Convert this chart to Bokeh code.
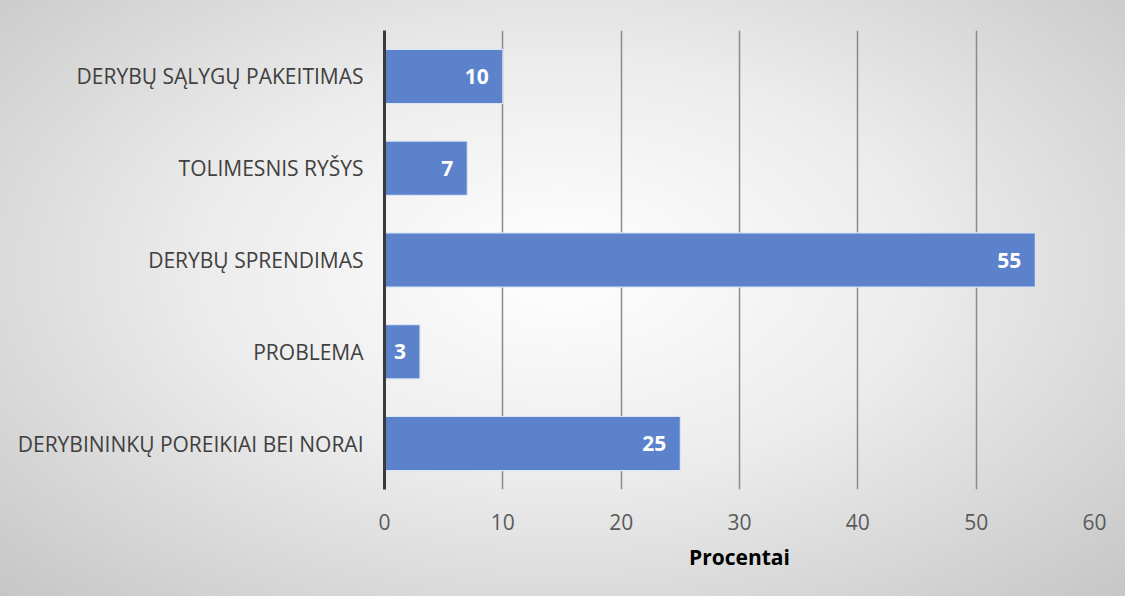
from bokeh.plotting import figure
from bokeh.models import Range1d, ColumnDataSource
from bokeh.core.properties import value
from bokeh.embed import file_html
from bokeh.resources import INLINE

categories = [
    "DERYBININKŲ POREIKIAI BEI NORAI",
    "PROBLEMA",
    "DERYBŲ SPRENDIMAS",
    "TOLIMESNIS RYŠYS",
    "DERYBŲ SĄLYGŲ PAKEITIMAS",
]
values = [25, 3, 55, 7, 10]
labels = [str(v) for v in values]
x_ticks = [0, 10, 20, 30, 40, 50, 60]

src = ColumnDataSource(dict(cat=categories, val=values, lab=labels))

p = figure(
    y_range=categories,
    x_range=Range1d(0, 60),
    width=1125, height=596,
    output_backend="svg", toolbar_location=None,
    min_border_left=384, min_border_right=31,
    min_border_top=30, min_border_bottom=107,
)
p.styles = {"background": "radial-gradient(ellipse at 50% 45%, #ffffff 0%, #ececec 45%, #c6c6c6 100%)"}
p.border_fill_alpha = 0
p.background_fill_alpha = 0
p.outline_line_color = None

p.hbar(y="cat", right="val", left=0, height=0.59, source=src,
       fill_color="#5B82CB", line_color="#dce6f5", line_width=1.2)

p.text(x="val", y="cat", text="lab", source=src, x_offset=-14,
       text_align="right", text_baseline="middle", text_color="white",
       text_font=value("Open Sans"), text_font_style="bold", text_font_size="21px")

# x axis
p.xaxis.ticker = x_ticks
p.xaxis.axis_line_color = None
p.xaxis.major_tick_line_color = None
p.xaxis.minor_tick_line_color = None
p.xaxis.major_label_text_font = "Open Sans"
p.xaxis.major_label_text_font_size = "21px"
p.xaxis.major_label_text_color = "#5a5a5a"
p.xaxis.major_label_standoff = 18
p.xaxis.axis_label = "Procentai"
p.xaxis.axis_label_text_font = "Open Sans"
p.xaxis.axis_label_text_font_style = "bold"
p.xaxis.axis_label_text_font_size = "21px"
p.xaxis.axis_label_text_color = "#000000"
p.xaxis.axis_label_standoff = 10

# y axis
p.yaxis.axis_line_color = "#3a3a3a"
p.yaxis.axis_line_width = 3
p.yaxis.major_tick_line_color = None
p.yaxis.minor_tick_line_color = None
p.yaxis.major_label_text_font = "Open Sans"
p.yaxis.major_label_text_font_size = "21px"
p.yaxis.major_label_text_color = "#404040"
p.yaxis.major_label_standoff = 15

p.xgrid.grid_line_color = "#8a8a8a"
p.xgrid.grid_line_width = 1.5
p.ygrid.grid_line_color = None

open("out.html", "w").write(file_html(p, INLINE))
